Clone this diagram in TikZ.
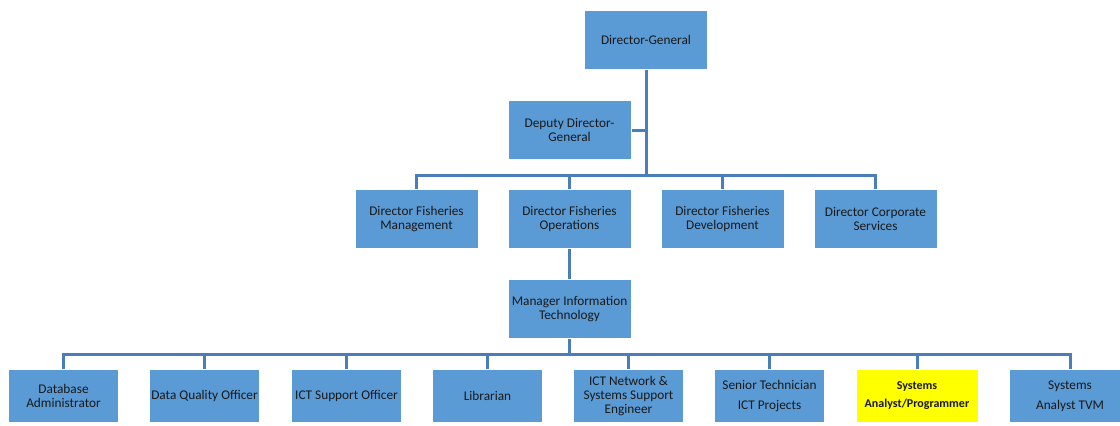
\documentclass[tikz,border=0pt]{standalone}
\usepackage{fontspec}
\setmainfont{Carlito}
\definecolor{postcolor}{HTML}{5B9BD5}
\definecolor{linkcolor}{HTML}{4A7EBB}
\definecolor{keycolor}{HTML}{FFFF00}

\begin{document}
\begin{tikzpicture}[
    x=1pt, y=-1pt,
    post/.style={
        rectangle,
        draw=white,
        fill=postcolor,
        line width=1pt,
        minimum width=123pt,
        minimum height=59pt,
        inner sep=2pt,
        align=center,
        text=black!90,
        font=\fontsize{13.3}{13.6}\selectfont
    },
    staff/.style={post, minimum width=110pt, minimum height=53pt},
    keystaff/.style={staff, fill=keycolor, minimum width=122pt, font=\fontsize{12}{18}\selectfont\bfseries},
    link/.style={draw=linkcolor, line width=3pt}
]

\useasboundingbox (0,0) rectangle (1120,426);

% --- NODES ---

% Top management
\node[post] (dg) at (646, 40) {Director-General};
\node[post] (ddg) at (569.5, 130) {Deputy Director-\\General};

% Directors
\node[post] (dfm) at (416.5, 219) {Director Fisheries\\Management};
\node[post] (dfo) at (569.5, 219) {Director Fisheries\\Operations};
\node[post] (dfd) at (722.5, 219) {Director Fisheries\\Development};
\node[post] (dcs) at (875.5, 219) {Director Corporate\\Services};

% IT manager
\node[post] (mit) at (569.5, 309) {Manager Information\\Technology};

% IT staff
\node[staff] (dba) at (63.5, 396) {Database\\Administrator};
\node[staff] (dqo) at (204.5, 396) {Data Quality Officer};
\node[staff] (iso) at (346.5, 396) {ICT Support Officer};
\node[staff] (lib) at (487.5, 396) {Librarian};
\node[staff] (ice) at (628.5, 396) {ICT Network \&\\Systems Support\\Engineer};
\node[staff] (stp) at (769.5, 396) {Senior Technician\\[6.5pt]ICT Projects};
\node[keystaff] (sap) at (917, 396) {Systems\\Analyst/Programmer};
\node[staff, minimum width=122pt] (stv) at (1070, 396) {Systems\\[6.5pt]Analyst TVM};

% --- CONNECTORS ---

\coordinate (dirbus) at (646, 175);
\coordinate (staffbus) at (569.5, 354);

% Director-General and deputy
\draw[link] (dg.south) -- (dirbus);
\draw[link] (ddg.east) -- (ddg.east -| dg.south);

% Directors bus
\draw[link] (dfm.north) -- (dfm.north |- dirbus) -- (dcs.north |- dirbus) -- (dcs.north);
\foreach \n in {dfo, dfd}
    \draw[link] (\n.north) -- (\n.north |- dirbus);

% Operations to IT manager
\draw[link] (dfo.south) -- (mit.north);

% Staff bus
\draw[link] (mit.south) -- (staffbus);
\draw[link] (dba.north) -- (dba.north |- staffbus) -- (stv.north |- staffbus) -- (stv.north);
\foreach \n in {dqo, iso, lib, ice, stp, sap}
    \draw[link] (\n.north) -- (\n.north |- staffbus);

\end{tikzpicture}
\end{document}
